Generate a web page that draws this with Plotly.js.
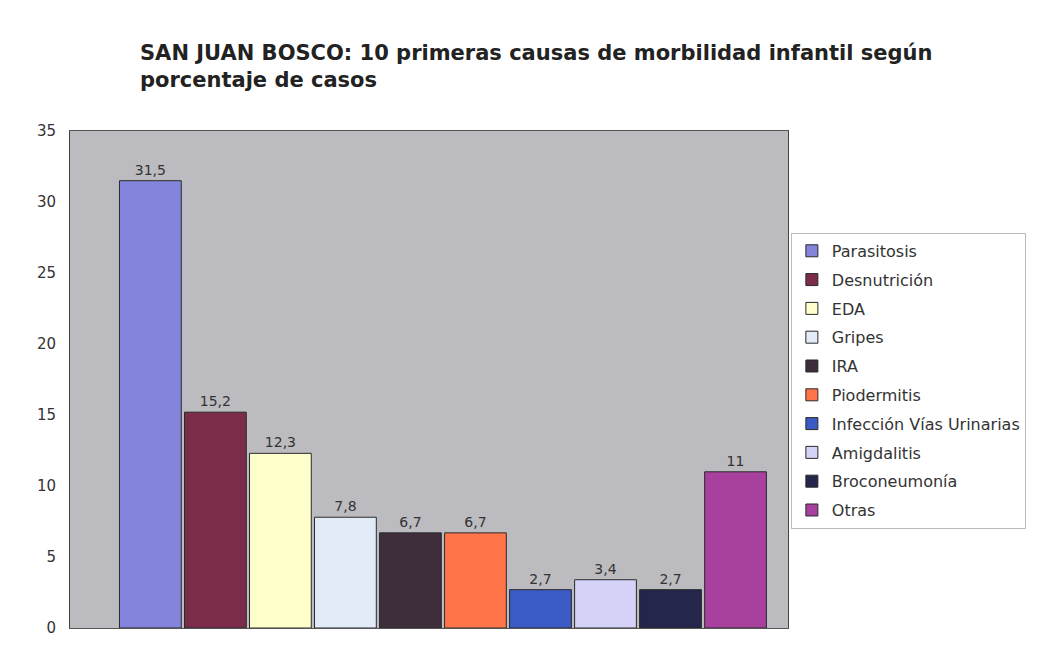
<!DOCTYPE html>
<html>
<head>
<meta charset="utf-8">
<script src="https://cdn.plot.ly/plotly-3.0.1.min.js"></script>
<style>html,body{margin:0;padding:0;background:#fff;}</style>
</head>
<body>
<div id="chart" style="width:1038px;height:650px;"></div>
<script>
const causes = ["Parasitosis","Desnutrición","EDA","Gripes","IRA","Piodermitis","Infección Vías Urinarias","Amigdalitis","Broconeumonía","Otras"];
const percentages = [31.5, 15.2, 12.3, 7.8, 6.7, 6.7, 2.7, 3.4, 2.7, 11];
const colors = ["#8484dc","#7b2c4a","#ffffcc","#e2ecf8","#3e2e3c","#ff7448","#3a5ac6","#d4d2f6","#24264c","#a8409e"];

const traces = causes.map((c, i) => ({
  type: "bar",
  name: c,
  x: [c],
  y: [percentages[i]],
  legendgroup: "g" + i,
  marker: {color: colors[i], line: {color: "#2a2a2a", width: 1}},
  texttemplate: "%{y}",
  textposition: "outside",
  cliponaxis: false,
  textfont: {family: "DejaVu Sans", size: 14, color: "#333"},
  hoverinfo: "none"
}));

const layout = {
  width: 1038, height: 650,
  margin: {l: 70, r: 246, t: 131, b: 22},
  paper_bgcolor: "#ffffff",
  plot_bgcolor: "#bcbcc0",
  separators: ",.",
  bargap: 0.05,
  barmode: "group",
  showlegend: true,
  title: {
    text: "SAN JUAN BOSCO: 10 primeras causas de morbilidad infantil según<br>porcentaje de casos",
    font: {family: "DejaVu Sans", size: 21, color: "#222", weight: "bold"},
    x: 140/1038, xanchor: "left", xref: "container",
    y: 1 - 60/650, yanchor: "top", yref: "container"
  },
  xaxis: {
    type: "category",
    range: [-1.236, 9.807],
    showticklabels: false,
    ticks: "",
    showgrid: false,
    showline: true, linecolor: "#555", linewidth: 1, mirror: true,
    zeroline: false, fixedrange: true
  },
  yaxis: {
    range: [0, 35],
    dtick: 5,
    showgrid: false,
    showline: true, linecolor: "#444", linewidth: 1, mirror: true,
    ticks: "", ticklen: 0,
    ticklabelstandoff: 10,
    tickfont: {family: "DejaVu Sans", size: 15, color: "#333"},
    zeroline: false
  },
  legend: {
    x: 1.004, xanchor: "left",
    y: 0.795, yanchor: "top",
    bgcolor: "#ffffff",
    bordercolor: "#bbbbbb", borderwidth: 1,
    font: {family: "DejaVu Sans", size: 16, color: "#333"},
    tracegroupgap: 5,
    itemwidth: 30
  }
};

Plotly.newPlot("chart", traces, layout, {displayModeBar: false, staticPlot: true});
</script>
</body>
</html>
